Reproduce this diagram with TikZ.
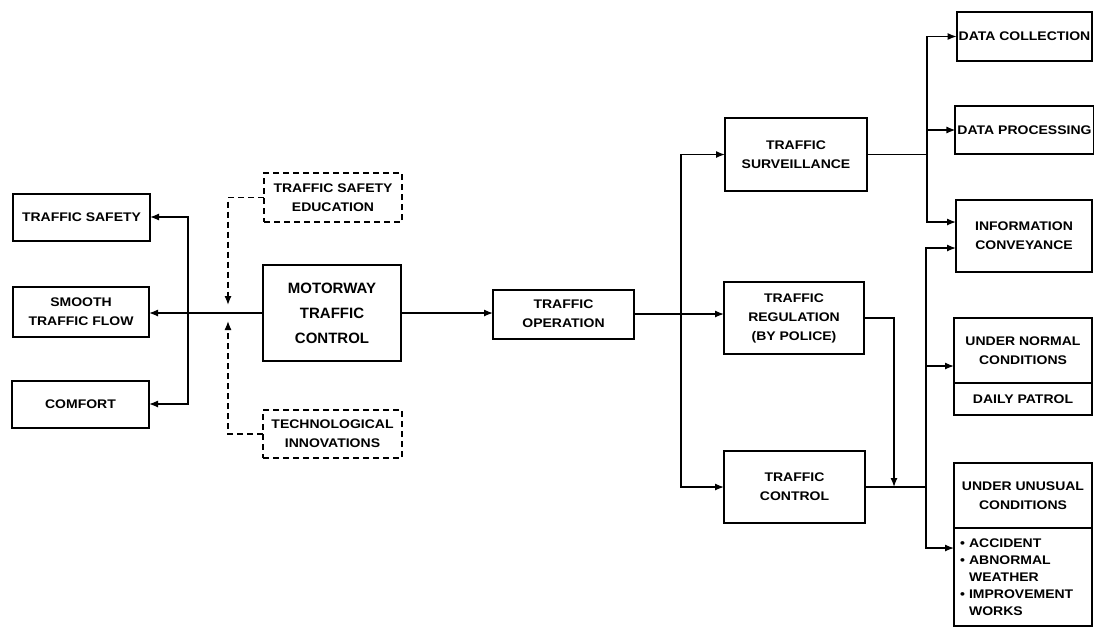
\documentclass[tikz,border=0pt]{standalone}
\usepackage{fontspec}
\setmainfont{Liberation Sans}[FakeStretch=1.12]
\newfontfamily\bigfont{Liberation Sans}
\usetikzlibrary{arrows.meta}
\begin{document}
\begin{tikzpicture}[x=1pt, y=-1pt,
  box/.style={draw, line width=2pt, outer sep=0pt, align=center, inner sep=2pt, font=\bfseries\fontsize{12.5}{19}\selectfont},
  dbox/.style={box, line width=1.6pt, dash pattern=on 6pt off 4pt},
  link/.style={line width=1.3pt},
  arr/.style={link, -{Latex[length=9pt,width=7pt]}},
  darr/.style={arr, dash pattern=on 6pt off 4pt}]
  \useasboundingbox (0,0) rectangle (1094,627);
  \node[box, minimum width=137pt, minimum height=47pt] (tsafety) at (81.5,217) {TRAFFIC SAFETY};
  \node[box, minimum width=136pt, minimum height=50pt] (smooth) at (81,312) {SMOOTH\\TRAFFIC FLOW};
  \node[box, minimum width=137pt, minimum height=47pt] (comfort) at (80.5,404) {COMFORT};
  \node[dbox, minimum width=138pt, minimum height=49pt] (tse) at (333,197.5) {TRAFFIC SAFETY\\EDUCATION};
  \node[box, minimum width=138pt, minimum height=96pt, font=\bigfont\bfseries\fontsize{15}{25}\selectfont] (mtc) at (332,313) {MOTORWAY\\TRAFFIC\\CONTROL};
  \node[dbox, minimum width=139pt, minimum height=48pt] (techinno) at (332.5,434) {TECHNOLOGICAL\\INNOVATIONS};
  \node[box, minimum width=141pt, minimum height=49pt] (operation) at (563.5,314) {TRAFFIC\\OPERATION};
  \node[box, minimum width=142pt, minimum height=73pt] (surv) at (796,154.5) {TRAFFIC\\SURVEILLANCE};
  \node[box, minimum width=140pt, minimum height=72pt] (regul) at (794,318) {TRAFFIC\\REGULATION\\(BY POLICE)};
  \node[box, minimum width=141pt, minimum height=72pt] (tcontrol) at (794.5,487) {TRAFFIC\\CONTROL};
  \node[box, minimum width=135pt, minimum height=49pt] (datacoll) at (1024.5,36.5) {DATA COLLECTION};
  \node[box, minimum width=135pt, minimum height=48pt] (dataproc) at (1024.5,130) {DATA PROCESSING};
  \node[box, minimum width=136pt, minimum height=72pt] (infoconv) at (1024,236) {INFORMATION\\CONVEYANCE};
  \node[box, minimum width=138pt, minimum height=65pt] (normal) at (1023,350.5) {UNDER NORMAL\\CONDITIONS};
  \node[box, minimum width=138pt, minimum height=32pt, anchor=north] (patrol) at (normal.south) {DAILY PATROL};
  \node[box, minimum width=138pt, minimum height=65pt] (unusual) at (1023,495.5) {UNDER UNUSUAL\\CONDITIONS};
  \node[box, minimum width=138pt, minimum height=98pt, anchor=north, align=left, text width=126pt,
    font=\bfseries\fontsize{12.5}{17}\selectfont] (incidents) at (unusual.south)
    {• ACCIDENT\\• ABNORMAL\\\hphantom{• }WEATHER\\• IMPROVEMENT\\\hphantom{• }WORKS};
  \coordinate (lbus) at (188,313);
  \coordinate (dtop) at (228,305);
  \coordinate (dbot) at (228,321);
  \coordinate (obus) at (681,314);
  \coordinate (sbus) at (927,154.5);
  \coordinate (cbus) at (926,487);
  \coordinate (rdrop) at (894,487);
  \draw[arr] (mtc.west) -- (mtc.west -| smooth.east);
  \draw[arr] (lbus) |- (tsafety.east);
  \draw[arr] (lbus) |- (comfort.east);
  \draw[darr] (tse.west) -| (dtop);
  \draw[darr] (techinno.west) -| (dbot);
  \draw[arr] (mtc.east) -- (mtc.east -| operation.west);
  \draw[link] (operation.east) -- (obus);
  \draw[arr] (obus) |- (surv.west);
  \draw[arr] (obus) -- (obus -| regul.west);
  \draw[arr] (obus) |- (tcontrol.west);
  \draw[link] (surv.east) -- (sbus);
  \draw[arr] (sbus) |- (datacoll.west);
  \draw[arr] (sbus) |- (dataproc.west);
  \draw[arr] (sbus) |- ([yshift=14pt]infoconv.west);
  \draw[arr] (regul.east) -| (rdrop);
  \draw[link] (tcontrol.east) -- (cbus);
  \draw[arr] (cbus) |- ([yshift=-12pt]infoconv.west);
  \draw[arr] (cbus) |- ([yshift=-15.5pt]normal.west);
  \draw[arr] (cbus) |- ([yshift=29pt]incidents.west);
\end{tikzpicture}
\end{document}
